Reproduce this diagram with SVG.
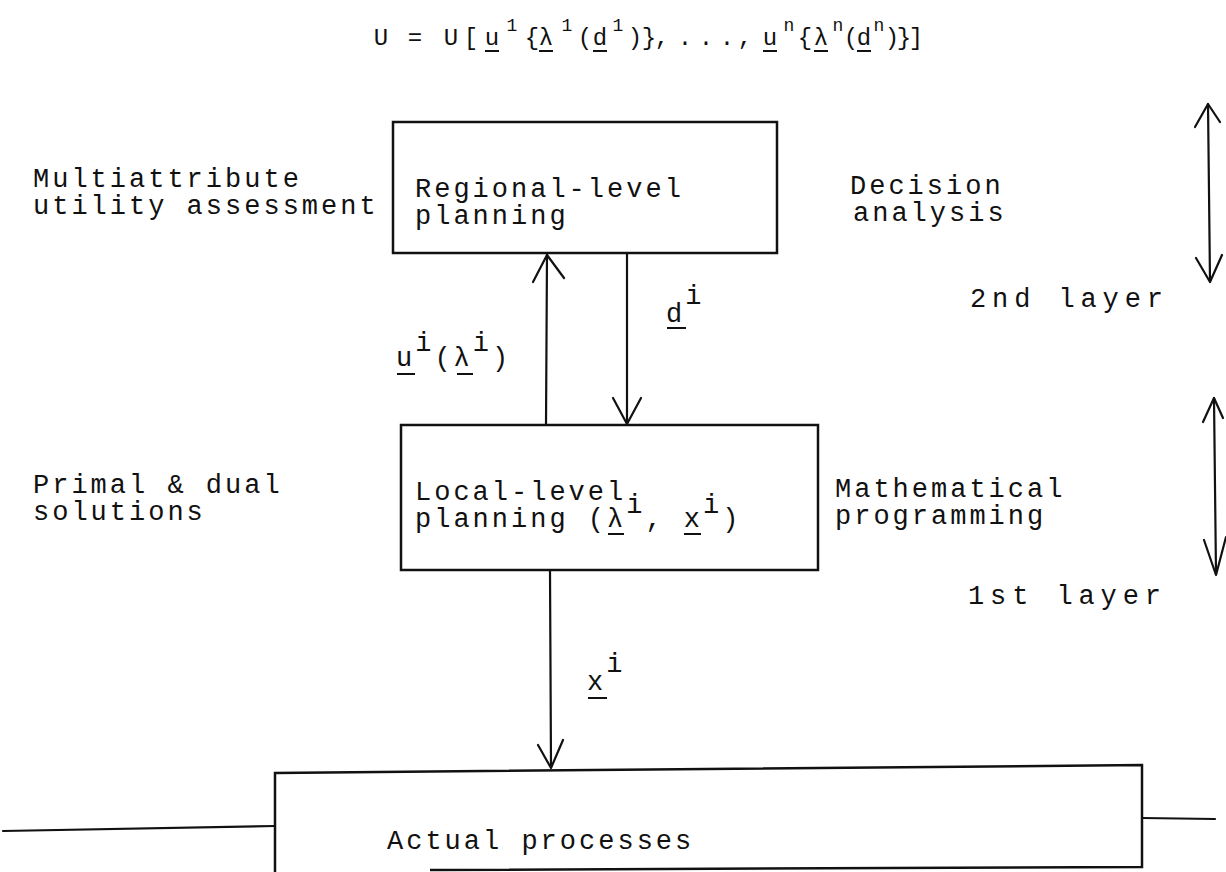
<svg xmlns="http://www.w3.org/2000/svg" width="1226" height="872" viewBox="0 0 1226 872">
<style>
.t{font-family:"Liberation Mono","DejaVu Sans Mono",monospace;font-size:27px;letter-spacing:3px;fill:#111}
.eq{font-family:"Liberation Mono","DejaVu Sans Mono",monospace;font-size:24px;fill:#111}
.sup{font-size:18px}
.box{fill:none;stroke:#111;stroke-width:2.5}
.ln{fill:none;stroke:#111;stroke-width:2.2;stroke-linecap:round;stroke-linejoin:round}
.ul{stroke:#111;stroke-width:2}
</style>
<rect width="1226" height="872" fill="#fff"/>
<g id="equation">
<text class="eq" text-anchor="middle">
<tspan x="381" y="45">U</tspan><tspan x="415" y="45">=</tspan><tspan x="451" y="45">U</tspan><tspan x="471" y="45">[</tspan><tspan x="492" y="45">u</tspan><tspan class="sup" x="512" y="31">1</tspan><tspan x="532" y="45">{</tspan><tspan x="546" y="45">λ</tspan><tspan class="sup" x="567" y="31">1</tspan><tspan x="585" y="45">(</tspan><tspan x="600" y="45">d</tspan><tspan class="sup" x="618" y="31">1</tspan><tspan x="635" y="45">)</tspan><tspan x="649" y="45">}</tspan><tspan x="662" y="45">,</tspan><tspan x="685" y="45">.</tspan><tspan x="706" y="45">.</tspan><tspan x="727" y="45">.</tspan><tspan x="745" y="45">,</tspan><tspan x="770" y="45">u</tspan><tspan class="sup" x="789" y="31">n</tspan><tspan x="805" y="45">{</tspan><tspan x="821" y="45">λ</tspan><tspan class="sup" x="838" y="31">n</tspan><tspan x="851" y="45">(</tspan><tspan x="864" y="45">d</tspan><tspan class="sup" x="879" y="31">n</tspan><tspan x="892" y="45">)</tspan><tspan x="904" y="45">}</tspan><tspan x="916" y="45">]</tspan>
</text>
<line class="ul" x1="485" y1="51" x2="499" y2="51"/>
<line class="ul" x1="539" y1="51" x2="553" y2="51"/>
<line class="ul" x1="593" y1="51" x2="607" y2="51"/>
<line class="ul" x1="763" y1="51" x2="777" y2="51"/>
<line class="ul" x1="814" y1="51" x2="828" y2="51"/>
<line class="ul" x1="857" y1="51" x2="871" y2="51"/>
</g>
<g id="regional">
<rect class="box" x="393" y="122" width="384" height="131"/>
<text class="t" x="415" y="197">Regional-level</text>
<text class="t" x="415" y="224">planning</text>
</g>
<g id="local">
<rect class="box" x="401" y="425" width="417" height="145"/>
<text class="t" x="415" y="500">Local-level</text>
<text class="t" x="415" y="527">planning (λ<tspan dy="-14">i</tspan><tspan dy="14">, x</tspan><tspan dy="-14">i</tspan><tspan dy="14">)</tspan></text>
<line class="ul" x1="608" y1="534" x2="624" y2="534"/>
<line class="ul" x1="684" y1="534" x2="701" y2="534"/>
</g>
<g id="actual">
<polyline class="box" points="275,872 275,773 1142,765 1142,867 430,870"/>
<text class="t" x="387" y="849">Actual processes</text>
</g>
<g id="labels">
<text class="t" x="33" y="187">Multiattribute</text>
<text class="t" x="33" y="214">utility assessment</text>
<text class="t" x="850" y="194">Decision</text>
<text class="t" x="853" y="221">analysis</text>
<text class="t" x="970" y="307" textLength="196">2nd layer</text>
<text class="t" x="33" y="493">Primal &amp; dual</text>
<text class="t" x="33" y="520">solutions</text>
<text class="t" x="835" y="497">Mathematical</text>
<text class="t" x="835" y="524">programming</text>
<text class="t" x="968" y="604" textLength="196">1st layer</text>
<text class="t" x="666" y="322">d<tspan dy="-18">i</tspan></text>
<line class="ul" x1="667" y1="328" x2="686" y2="328"/>
<text class="t" x="396" y="366">u<tspan dy="-15">i</tspan><tspan dy="15">(λ</tspan><tspan dy="-15">i</tspan><tspan dy="15">)</tspan></text>
<line class="ul" x1="397" y1="374" x2="415" y2="374"/>
<line class="ul" x1="457" y1="374" x2="473" y2="374"/>
<text class="t" x="587" y="690">x<tspan dy="-18">i</tspan></text>
<line class="ul" x1="588" y1="698" x2="607" y2="698"/>
</g>
<g id="connectors">
<line class="ln" x1="546" y1="425" x2="547" y2="254"/>
<polyline class="ln" points="533,282 547,255 564,278"/>
<line class="ln" x1="627" y1="254" x2="627" y2="424"/>
<polyline class="ln" points="613,398 627,424 641,398"/>
<line class="ln" x1="550" y1="571" x2="551" y2="767"/>
<polyline class="ln" points="538,745 551,768 563,740"/>
<line class="ln" x1="1208" y1="104" x2="1210" y2="281"/>
<polyline class="ln" points="1195,127 1208,104 1220,122"/>
<polyline class="ln" points="1196,258 1210,282 1222,255"/>
<line class="ln" x1="1214" y1="398" x2="1216" y2="574"/>
<polyline class="ln" points="1203,422 1214,398 1223,418"/>
<polyline class="ln" points="1204,540 1216,575 1226,537"/>
<line class="ln" x1="3" y1="831" x2="275" y2="826"/>
<line class="ln" x1="1142" y1="818" x2="1215" y2="819"/>
</g>
</svg>
